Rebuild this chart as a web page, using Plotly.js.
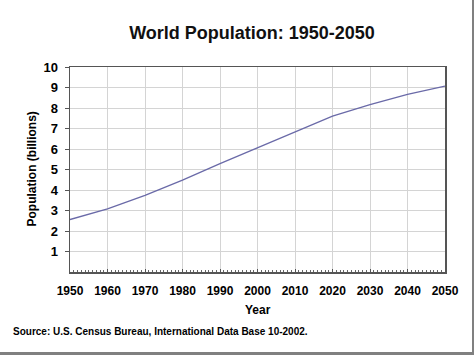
<!DOCTYPE html>
<html>
<head>
<meta charset="utf-8">
<script src="https://cdn.plot.ly/plotly-3.0.1.min.js"></script>
<style>
  html, body { margin: 0; padding: 0; background: #fff; }
  #wrap { position: relative; width: 474px; height: 355px; overflow: hidden; }
  #chart { width: 474px; height: 355px; }
  #bR { position: absolute; right: 0; top: 0; width: 2px; height: 355px; background: #808080; }
  #bB { position: absolute; left: 0; bottom: 0; width: 474px; height: 3px; background: #808080; }
</style>
</head>
<body>
<div id="wrap">
  <div id="chart"></div>
  <div id="bR"></div>
  <div id="bB"></div>
</div>
<script>
const years = [1950, 1960, 1970, 1980, 1990, 2000, 2010, 2020, 2030, 2040, 2050];
const population = [2.56, 3.08, 3.74, 4.48, 5.29, 6.05, 6.84, 7.60, 8.16, 8.67, 9.07];
const yTicks = [1, 2, 3, 4, 5, 6, 7, 8, 9, 10];
const xTicks = [1950, 1960, 1970, 1980, 1990, 2000, 2010, 2020, 2030, 2040, 2050];

const font = 'Liberation Sans, Arial, sans-serif';

const trace = {
  x: years,
  y: population,
  type: 'scatter',
  mode: 'lines',
  line: { color: '#6a6aa8', width: 1.3 },
  hoverinfo: 'skip'
};

const layout = {
  width: 474,
  height: 355,
  margin: { l: 70, r: 29, t: 67, b: 83 },
  paper_bgcolor: '#ffffff',
  plot_bgcolor: '#ffffff',
  showlegend: false,
  font: { family: font, color: '#000' },
  title: {
    text: '<b>World Population: 1950-2050</b>',
    font: { family: font, size: 18, color: '#111' },
    xref: 'container', x: 252 / 474, xanchor: 'center',
    yref: 'container', y: 1 - 33 / 355, yanchor: 'middle'
  },
  xaxis: {
    range: [1950, 2050],
    tickmode: 'array',
    tickvals: xTicks,
    ticktext: xTicks.map(v => '<b>' + v + '</b>'),
    tickfont: { family: font, size: 12, color: '#000' },
    ticks: 'inside', ticklen: 3, tickcolor: '#555',
    minor: { dtick: 1, tick0: 1950, ticks: 'inside', ticklen: 2, tickcolor: '#666', showgrid: false },
    showgrid: true, gridcolor: '#d4d4d4', gridwidth: 1,
    showline: true, linecolor: '#555', linewidth: 1.5, mirror: true,
    zeroline: false,
    ticklabelstandoff: 7,
    fixedrange: true
  },
  yaxis: {
    range: [0, 10],
    tickmode: 'array',
    tickvals: yTicks,
    ticktext: yTicks.map(v => '<b>' + v + '</b>'),
    tickfont: { family: font, size: 13, color: '#000' },
    ticks: 'outside', ticklen: 4, tickcolor: '#555',
    showgrid: true, gridcolor: '#d4d4d4', gridwidth: 1,
    showline: true, linecolor: '#555', linewidth: 1.5, mirror: true,
    zeroline: false,
    ticklabelstandoff: 4,
    fixedrange: true
  },
  annotations: [
    {
      text: '<b>Year</b>', xref: 'paper', yref: 'paper',
      x: 0.5, y: -(310 - 272) / 205, xanchor: 'center', yanchor: 'middle',
      showarrow: false, font: { family: font, size: 12, color: '#000' }
    },
    {
      text: '<b>Population (billions)</b>', xref: 'paper', yref: 'paper',
      x: -(70 - 31) / 375, y: 0.5, xanchor: 'center', yanchor: 'middle',
      textangle: -90,
      showarrow: false, font: { family: font, size: 12, color: '#000' }
    },
    {
      text: '<b>Source: U.S. Census Bureau, International Data Base 10-2002.</b>',
      xref: 'paper', yref: 'paper',
      x: -(70 - 11) / 375, y: -(331 - 272) / 205, xanchor: 'left', yanchor: 'middle',
      showarrow: false, font: { family: font, size: 10, color: '#000' }
    }
  ]
};

Plotly.newPlot('chart', [trace], layout, { displayModeBar: false, staticPlot: true });
</script>
</body>
</html>
